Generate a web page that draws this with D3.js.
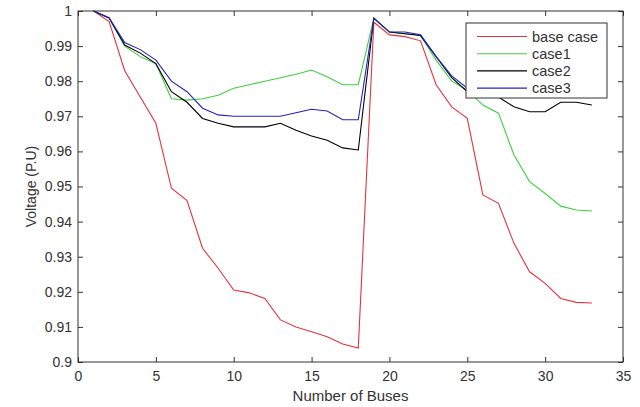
<!DOCTYPE html>
<html>
<head>
<meta charset="utf-8">
<script src="https://cdn.jsdelivr.net/npm/d3@7"></script>
<style>
  body { margin: 0; background: #fff; }
  text { font-family: "Liberation Sans", Arial, sans-serif; fill: #333; }
</style>
</head>
<body>
<svg id="chart"></svg>
<script>
    var buses = d3.range(1, 34);
    var baseCase = [1.000, 0.997, 0.983, 0.9755, 0.968, 0.9495, 0.946, 0.9324, 0.9267, 0.9205, 0.9197, 0.9181,
                    0.912, 0.910, 0.9086, 0.9072, 0.9051, 0.904, 0.9968, 0.9932, 0.9927, 0.9915, 0.979, 0.9727,
                    0.9694, 0.9476, 0.9452, 0.9338, 0.9257, 0.9224, 0.9181, 0.917, 0.9168];
    var case1 = [1.000, 0.998, 0.990, 0.987, 0.985, 0.975, 0.9746, 0.975, 0.976, 0.978, 0.979, 0.980,
                 0.981, 0.982, 0.9832, 0.9813, 0.979, 0.979, 0.998, 0.994, 0.9935, 0.993, 0.986, 0.980,
                 0.9775, 0.9732, 0.9709, 0.959, 0.9514, 0.948, 0.9444, 0.9433, 0.943];
    var case2 = [1.000, 0.998, 0.9903, 0.988, 0.985, 0.977, 0.974, 0.9694, 0.968, 0.967, 0.967, 0.967,
                 0.968, 0.966, 0.9644, 0.9632, 0.961, 0.9604, 0.998, 0.994, 0.9935, 0.993, 0.987, 0.981,
                 0.977, 0.9765, 0.9755, 0.9727, 0.9713, 0.9713, 0.974, 0.974, 0.9732];
    var case3 = [1.000, 0.998, 0.991, 0.989, 0.986, 0.980, 0.977, 0.9723, 0.9704, 0.970, 0.970, 0.970,
                 0.970, 0.971, 0.972, 0.9715, 0.969, 0.969, 0.9979, 0.994, 0.994, 0.9932, 0.987, 0.9815,
                 0.978, 0.978, 0.978, 0.979, 0.980, 0.981, 0.981, 0.981, 0.981];
    var seriesNames = ['base case', 'case1', 'case2', 'case3'];
    var seriesColors = ['#e3343f', '#3fcf3f', '#000000', '#2323c3'];
    var xTicks = [0, 5, 10, 15, 20, 25, 30, 35];
    var yTicks = [0.9, 0.91, 0.92, 0.93, 0.94, 0.95, 0.96, 0.97, 0.98, 0.99, 1];

    var width = 640, height = 407;
    var plotLeft = 78, plotRight = 623, plotTop = 11, plotBottom = 362;
    var axisColor = '#333';

    var chart = d3.select('#chart')
        .attr('width', width)
        .attr('height', height);

    var x = d3.scaleLinear().domain([0, 35]).range([plotLeft, plotRight]);
    var y = d3.scaleLinear().domain([0.9, 1]).range([plotBottom, plotTop]);

    // axes (ticks inside, like matlab)
    var xAxis = d3.axisBottom(x).tickValues(xTicks).tickSizeInner(-5).tickSizeOuter(0).tickPadding(9);
    var yAxis = d3.axisLeft(y).tickValues(yTicks).tickSizeInner(-5).tickSizeOuter(0).tickPadding(6)
        .tickFormat(function(d){ return d === 1 ? '1' : d3.format('.2~f')(d); });
    var xTop = d3.axisTop(x).tickValues(xTicks).tickSizeInner(-5).tickSizeOuter(0).tickFormat('');
    var yRight = d3.axisRight(y).tickValues(yTicks).tickSizeInner(-5).tickSizeOuter(0).tickFormat('');

    function styleAxis(g) {
        g.select('.domain').remove();
        g.selectAll('line').attr('stroke', axisColor);
        g.selectAll('text').attr('font-size', 14).attr('fill', '#333')
            .attr('font-family', '"Liberation Sans", Arial, sans-serif');
    }
    chart.append('g').attr('transform', 'translate(0,' + plotBottom + ')').call(xAxis).call(styleAxis);
    chart.append('g').attr('transform', 'translate(' + plotLeft + ',0)').call(yAxis).call(styleAxis);
    chart.append('g').attr('transform', 'translate(0,' + plotTop + ')').call(xTop).call(styleAxis);
    chart.append('g').attr('transform', 'translate(' + plotRight + ',0)').call(yRight).call(styleAxis);

    // -----------------------------------
    var line = d3.line()
        .x(function(d, i){ return x(buses[i]); })
        .y(function(d){ return y(d); });

    var allSeries = [baseCase, case1, case2, case3];
    chart.append('g').selectAll('path')
        .data(allSeries)
        .join('path')
        .attr('d', line)
        .attr('fill', 'none')
        .attr('stroke', function(d, i){ return seriesColors[i]; })
        .attr('stroke-width', 1.1);

    // box
    chart.append('rect')
        .attr('x', plotLeft).attr('y', plotTop)
        .attr('width', plotRight - plotLeft).attr('height', plotBottom - plotTop)
        .attr('fill', 'none').attr('stroke', axisColor).attr('stroke-width', 1);

    // axis labels
    chart.append('text')
        .attr('x', (plotLeft + plotRight) / 2).attr('y', 401)
        .attr('text-anchor', 'middle').attr('font-size', 15)
        .text('Number of Buses');
    chart.append('text')
        .attr('transform', 'translate(36,' + (plotTop + plotBottom) / 2 + ') rotate(-90)')
        .attr('text-anchor', 'middle').attr('font-size', 14)
        .text('Voltage (P.U)');

    // legend
    var legend = chart.append('g').attr('transform', 'translate(466,23)');
    legend.append('rect')
        .attr('width', 141).attr('height', 75)
        .attr('fill', '#fff').attr('stroke', axisColor).attr('stroke-width', 1);
    var items = legend.selectAll('g.item')
        .data(seriesNames)
        .join('g')
        .attr('class', 'item')
        .attr('transform', function(d, i){ return 'translate(0,' + (13.5 + i * 17.2) + ')'; });
    items.append('line')
        .attr('x1', 11).attr('x2', 61)
        .attr('stroke', function(d, i){ return seriesColors[i]; })
        .attr('stroke-width', 1.1);
    items.append('text')
        .attr('x', 66).attr('dy', '0.35em')
        .attr('font-size', 14.5)
        .text(function(d){ return d; });
</script>
</body>
</html>
